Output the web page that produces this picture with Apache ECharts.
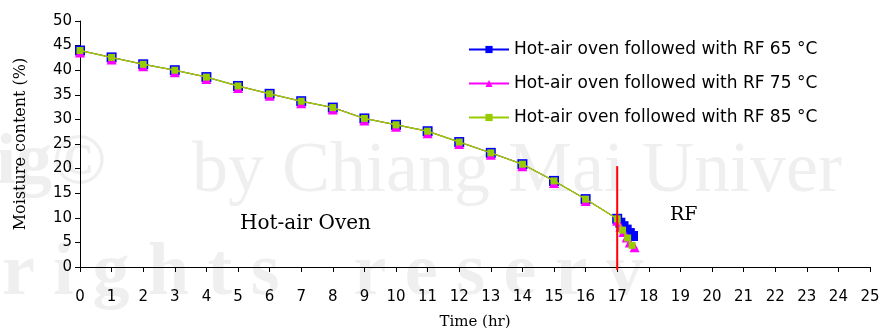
<!DOCTYPE html>
<html>
<head>
<meta charset="utf-8">
<script src="https://cdn.jsdelivr.net/npm/echarts@6/dist/echarts.min.js"></script>
<style>
  html, body { margin: 0; padding: 0; background: #fff; }
  #chart { width: 883px; height: 330px; }
</style>
</head>
<body>
<div id="chart"></div>
<script>
// hot-air oven stage (shared by the three runs)
var ovenHours = [0, 1, 2, 3, 4, 5, 6, 7, 8, 9, 10, 11, 12, 13, 14, 15, 16, 17]
var ovenMoisture = [44.0, 42.6, 41.2, 40.0, 38.6, 36.8, 35.2, 33.7, 32.4, 30.2, 28.9, 27.6, 25.4, 23.2, 20.9, 17.5, 13.8, 9.8]

// RF stage
var rf65Hours = [17.1, 17.2, 17.3, 17.4, 17.5]
var rf65Moisture = [9.0, 8.3, 7.6, 6.9, 6.3]
var rf75Hours = [17.1, 17.2, 17.3, 17.4, 17.55]
var rf75Moisture = [8.6, 7.5, 6.4, 5.4, 4.4]
var rf85Hours = [17.17, 17.33, 17.47]
var rf85Moisture = [7.5, 5.9, 4.4]

// red divider between the two stages
var dividerHours = [17, 17]
var dividerMoisture = [20.5, -0.6]

var seriesNames = [
  'Hot-air oven followed with RF 65 °C',
  'Hot-air oven followed with RF 75 °C',
  'Hot-air oven followed with RF 85 °C'
]

function pairs (xs, ys) {
  return xs.map(function (x, i) { return [x, ys[i]] })
}

var data65 = pairs(ovenHours, ovenMoisture).concat(pairs(rf65Hours, rf65Moisture))
var data75 = pairs(ovenHours, ovenMoisture).concat(pairs(rf75Hours, rf75Moisture))
var data85 = pairs(ovenHours, ovenMoisture).concat(pairs(rf85Hours, rf85Moisture))

var chart = echarts.init(document.getElementById('chart'))
var axisText = { color: '#000', fontFamily: 'DejaVu Sans', fontSize: 15 }
var serif = 'DejaVu Serif'
var wm = '#efefef'

chart.setOption({
  animation: false,
  backgroundColor: '#fff',
  graphic: [
    { type: 'text', left: -4, top: 128, z: -10, silent: true,
      style: { text: 'ig©', fill: wm, font: 'bold 72px "Liberation Serif"' } },
    { type: 'text', left: 192, top: 136, z: -10, silent: true,
      style: { text: 'by Chiang Mai Univer', fill: wm, font: '72px "Liberation Serif"' } },
    { type: 'text', left: 2, top: 238, z: -10, silent: true,
      style: { text: 'r i g h t s    r e s e r v', fill: wm, font: 'bold 74px "Liberation Serif"' } },
    { type: 'text', left: 240, top: 214, silent: true,
      style: { text: 'Hot-air Oven', fill: '#000', font: '20px "DejaVu Serif"' } },
    { type: 'text', left: 670, top: 206, silent: true,
      style: { text: 'RF', fill: '#000', font: '19px "DejaVu Serif"' } }
  ],
  grid: { left: 80, right: 13, top: 21, bottom: 63, containLabel: false, outerBoundsMode: 'none' },
  legend: {
    orient: 'vertical',
    left: 463,
    top: 36,
    itemGap: 17,
    itemWidth: 40,
    itemHeight: 9,
    textStyle: { color: '#000', fontFamily: 'DejaVu Sans', fontSize: 17 },
    data: seriesNames
  },
  xAxis: {
    type: 'value',
    min: 0,
    max: 25,
    interval: 1,
    name: 'Time (hr)',
    nameLocation: 'middle',
    nameGap: 48,
    nameTextStyle: { color: '#000', fontFamily: serif, fontSize: 15 },
    splitLine: { show: false },
    axisLine: { lineStyle: { color: '#000' } },
    axisTick: { length: 5, lineStyle: { color: '#000' } },
    axisLabel: Object.assign({ margin: 23 }, axisText)
  },
  yAxis: {
    type: 'value',
    min: 0,
    max: 50,
    interval: 5,
    name: 'Moisture content (%)',
    nameLocation: 'middle',
    nameGap: 51,
    nameTextStyle: { color: '#000', fontFamily: serif, fontSize: 16 },
    splitLine: { show: false },
    axisLine: { show: true, lineStyle: { color: '#000' } },
    axisTick: { show: true, length: 5, lineStyle: { color: '#000' } },
    axisLabel: Object.assign({ margin: 8 }, axisText)
  },
  series: [
    {
      name: seriesNames[0],
      type: 'line',
      data: data65,
      symbol: 'rect',
      symbolSize: 10,
      color: '#0000ff',
      lineStyle: { color: '#0000ff', width: 1 },
      z: 2
    },
    {
      name: seriesNames[1],
      type: 'line',
      data: data75,
      symbol: 'triangle',
      symbolSize: 10,
      symbolOffset: [0, 2],
      color: '#ff00ff',
      lineStyle: { color: '#ff00ff', width: 1 },
      z: 3
    },
    {
      name: seriesNames[2],
      type: 'line',
      data: data85,
      symbol: 'rect',
      symbolSize: 7,
      color: '#99cc00',
      lineStyle: { color: '#99cc00', width: 1.5 },
      z: 4
    },
    {
      name: 'divider',
      type: 'line',
      data: pairs(dividerHours, dividerMoisture),
      symbol: 'none',
      clip: false,
      silent: true,
      lineStyle: { color: '#ff0000', width: 2 },
      z: 5
    }
  ]
})
</script>
</body>
</html>
